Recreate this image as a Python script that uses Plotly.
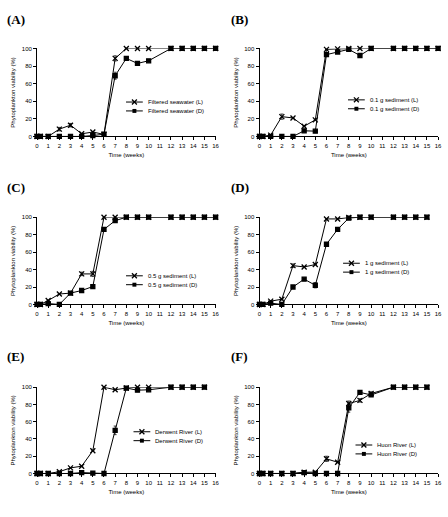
import plotly.graph_objects as go

# ---------------- data ----------------
weeks_16 = [0, 0.3, 1, 2, 3, 4, 5, 6, 7, 8, 9, 10, 12, 13, 14, 15, 16]
weeks_15 = [0, 0.3, 1, 2, 3, 4, 5, 6, 7, 8, 9, 10, 12, 13, 14, 15]

a_L = [0, 0, 0, 8.3, 12.8, 3, 5, 2.3, 88.7, 100, 100, 100, 100, 100, 100, 100, 100]
a_D = [0, 0, 0, 0, 0, 0, 1, 2.5, 69, 88.7, 83, 86, 100, 100, 100, 100, 100]
a_L_err = [0, 0, 0, 2, 2, 0, 0, 0, 3, 0, 0, 0, 0, 0, 0, 0, 0]
a_D_err = [0, 0, 0, 0, 0, 0, 0, 0, 4, 0, 0, 0, 0, 0, 0, 0, 0]

b_L = [0, 0, 1.5, 22.5, 21, 11.6, 18.8, 99, 99.5, 100, 100, 100, 100, 100, 100, 100, 100]
b_D = [0, 0, 0, 0, 0, 6.4, 6, 93, 96, 99, 92, 100, 100, 100, 100, 100, 100]
b_L_err = [0, 0, 0, 3, 0, 0, 0, 0, 0, 0, 0, 0, 0, 0, 0, 0, 0]
b_D_err = [0] * 17

c_L = [0, 0, 4.5, 12, 13, 35, 35, 100, 100, 100, 100, 100, 100, 100, 100, 100, 100]
c_D = [0, 0, 1, 0, 13, 16, 20.5, 86, 96, 100, 100, 100, 100, 100, 100, 100, 100]
c_L_err = [0, 0, 0, 0, 0, 2, 3, 0, 0, 0, 0, 0, 0, 0, 0, 0, 0]
c_D_err = [0, 0, 0, 0, 0, 0, 0, 2, 0, 0, 0, 0, 0, 0, 0, 0, 0]

d_L = [0, 0, 3.8, 6, 44.5, 43, 45.7, 98, 98, 99.6, 100, 100, 100, 100, 100, 100]
d_D = [0, 0, 1.5, 0, 20, 29, 22, 69, 86, 99, 100, 100, 100, 100, 100, 100]
d_L_err = [0, 0, 0, 0, 2, 0, 0, 0, 0, 0, 0, 0, 0, 0, 0, 0]
d_D_err = [0, 0, 0, 0, 0, 0, 3, 0, 0, 0, 0, 0, 0, 0, 0, 0]

e_L = [0, 0, 0, 2, 6.5, 8.4, 26.4, 100, 97, 99, 100, 100, 100, 100, 100, 100]
e_D = [0, 0, 0, 0, 0, 1, 0.5, 0, 50, 99, 96.5, 97, 100, 100, 100, 100]
e_L_err = [0] * 16
e_D_err = [0, 0, 0, 0, 0, 0, 0, 0, 5, 0, 0, 0, 0, 0, 0, 0]

f_L = [0, 0, 0, 0, 0, 1.5, 1.5, 17, 13, 81, 84.7, 92.7, 100, 100, 100, 100]
f_D = [0, 0, 0, 0, 0, 1, 0, 0, 0, 76, 94, 91, 100, 100, 100, 100]
f_L_err = [0, 0, 0, 0, 0, 0, 0, 3, 0, 3, 2, 2, 0, 0, 0, 0]
f_D_err = [0, 0, 0, 0, 0, 0, 0, 0, 0, 5, 0, 0, 0, 0, 0, 0]

panel_letters = ["(A)", "(B)", "(C)", "(D)", "(E)", "(F)"]
legend_names = [
    ("Filtered seawater (L)", "Filtered seawater (D)"),
    ("0.1 g sediment (L)", "0.1 g sediment (D)"),
    ("0.5 g sediment (L)", "0.5 g sediment (D)"),
    ("1 g sediment (L)", "1 g sediment (D)"),
    ("Derwent River (L)", "Derwent River (D)"),
    ("Huon River (L)", "Huon River (D)"),
]
x_ticks = list(range(0, 17))
y_ticks = [0, 20, 40, 60, 80, 100]
x_title = "Time (weeks)"
y_title = "Phytoplankton viability (%)"

panels = [
    (weeks_16, a_L, a_D, a_L_err, a_D_err),
    (weeks_16, b_L, b_D, b_L_err, b_D_err),
    (weeks_16, c_L, c_D, c_L_err, c_D_err),
    (weeks_15, d_L, d_D, d_L_err, d_D_err),
    (weeks_15, e_L, e_D, e_L_err, e_D_err),
    (weeks_15, f_L, f_D, f_L_err, f_D_err),
]

# ---------------- layout geometry (pixels) ----------------
W, H = 448, 517
col_px = [(35.5, 216.5), (261, 442)]
row_px = [(46, 135), (216.7, 305), (388.7, 476)]
letter_px = [(3, 17), (230, 17), (3, 187), (230, 187), (3, 358), (230, 358)]
legend_px = [(145.7, 104.7), (370.7, 102.5), (145.7, 280.5),
             (365.7, 267.8), (153.3, 438.3), (378.3, 451.7)]
legend_row_gap = 9.0

FONT = "Liberation Sans, Arial, sans-serif"


def px2x(v):
    return v / W


def px2y(v):
    return 1 - v / H


fig = go.Figure()
annotations = []
shapes = []
layout = dict(
    width=W, height=H,
    margin=dict(l=0, r=0, t=0, b=0),
    paper_bgcolor="white", plot_bgcolor="white",
    font=dict(family=FONT, size=6, color="black"),
    showlegend=False,
)

for i, (xs, yl, yd, el, ed) in enumerate(panels):
    r, c = divmod(i, 2)
    sfx = "" if i == 0 else str(i + 1)
    xa, ya = "x" + sfx, "y" + sfx
    for ys, err, name, sym, size in [(yl, el, legend_names[i][0], "x-thin", 5),
                                     (yd, ed, legend_names[i][1], "square", 4)]:
        fig.add_trace(go.Scatter(
            x=xs, y=ys, name=name, mode="lines+markers",
            xaxis=xa, yaxis=ya, cliponaxis=False,
            line=dict(color="black", width=1),
            marker=dict(symbol=sym, size=size, color="black",
                        line=dict(color="black", width=1.3)),
            error_y=dict(type="data", array=err, visible=True,
                         color="black", thickness=0.7, width=1.5),
        ))
    x0, x1 = col_px[c]
    y0, y1 = row_px[r]
    layout["xaxis" + sfx] = dict(
        domain=[x0 / W, x1 / W], range=[0, 16], anchor=ya,
        tickmode="array", tickvals=x_ticks,
        showline=True, linecolor="black", linewidth=1,
        ticks="outside", ticklen=3, tickwidth=1, tickcolor="black",
        showgrid=False, zeroline=False,
        tickfont=dict(size=6, family=FONT),
        title=dict(text=x_title, font=dict(size=6, family=FONT), standoff=5),
    )
    layout["yaxis" + sfx] = dict(
        domain=[1 - y1 / H, 1 - y0 / H], range=[0, 100], anchor=xa,
        tickmode="array", tickvals=y_ticks,
        showline=True, linecolor="black", linewidth=1,
        ticks="outside", ticklen=3, tickwidth=1, tickcolor="black",
        showgrid=False, zeroline=False,
        tickfont=dict(size=6, family=FONT),
        title=dict(text=y_title, font=dict(size=6, family=FONT), standoff=5),
    )

    # legend (key line + marker + label), drawn in page coordinates
    tx, tmid = legend_px[i]
    for k, name in enumerate(legend_names[i]):
        cy = tmid + (k - 0.5) * legend_row_gap
        lx0, lx1 = tx - 20, tx - 3
        cx = (lx0 + lx1) / 2
        shapes.append(dict(type="line", xref="paper", yref="paper",
                           x0=px2x(lx0), x1=px2x(lx1), y0=px2y(cy), y1=px2y(cy),
                           line=dict(color="black", width=1)))
        if k == 0:
            s = 2.5
            for dx0, dy0, dx1, dy1 in [(-s, -s, s, s), (-s, s, s, -s)]:
                shapes.append(dict(type="line", xref="paper", yref="paper",
                                   x0=px2x(cx + dx0), y0=px2y(cy + dy0),
                                   x1=px2x(cx + dx1), y1=px2y(cy + dy1),
                                   line=dict(color="black", width=1.3)))
        else:
            s = 2
            shapes.append(dict(type="rect", xref="paper", yref="paper",
                               x0=px2x(cx - s), x1=px2x(cx + s),
                               y0=px2y(cy - s), y1=px2y(cy + s),
                               fillcolor="black", line=dict(width=0)))
        annotations.append(dict(
            text=name, x=px2x(tx), y=px2y(cy), xref="paper", yref="paper",
            xanchor="left", yanchor="middle", showarrow=False,
            font=dict(size=6, family=FONT, color="black"),
        ))

    px_, py_ = letter_px[i]
    annotations.append(dict(
        text="<b>" + panel_letters[i] + "</b>", x=px2x(px_), y=px2y(py_),
        xref="paper", yref="paper", xanchor="left", yanchor="middle",
        showarrow=False, font=dict(family="Liberation Serif, Times New Roman, serif",
                                   size=13, color="black"),
    ))

layout["annotations"] = annotations
layout["shapes"] = shapes
fig.update_layout(**layout)
fig.write_html("out.html")
